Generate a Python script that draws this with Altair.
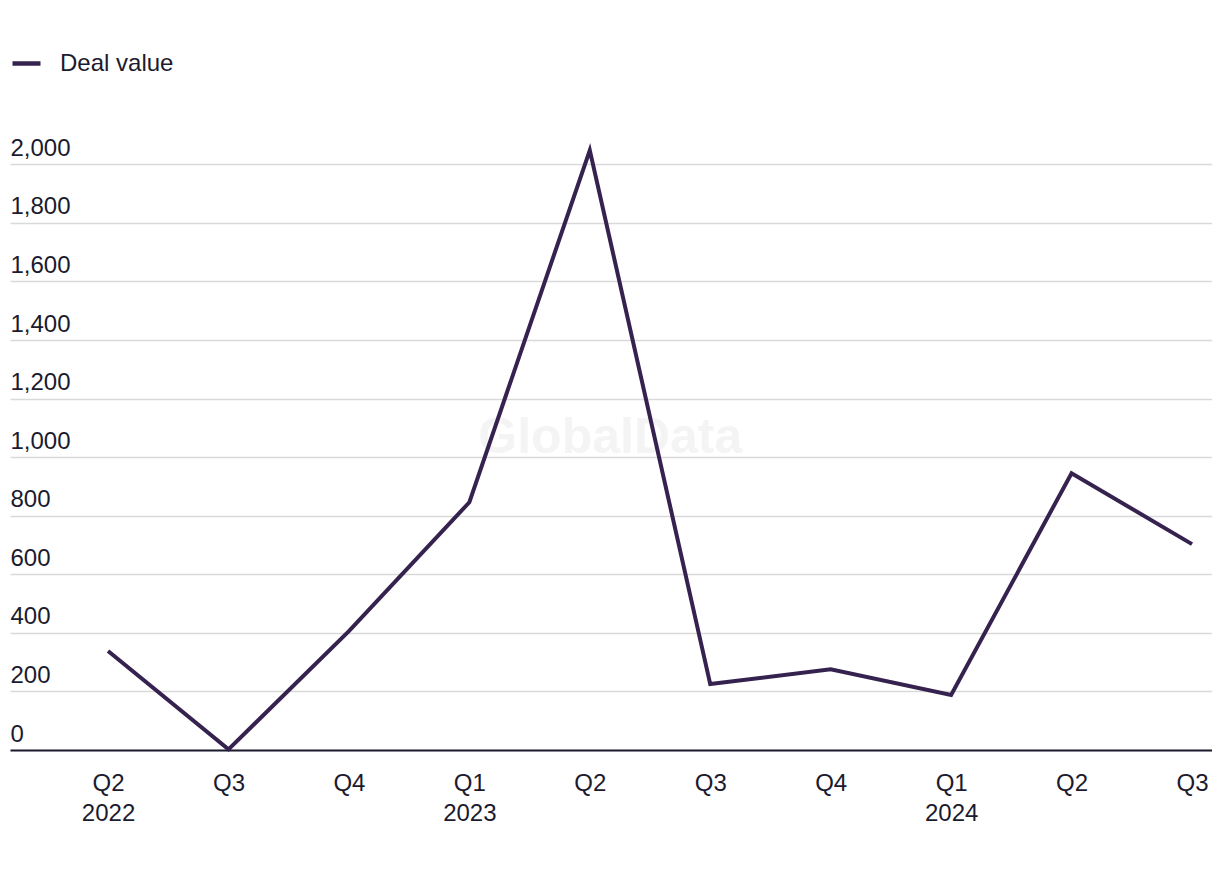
import altair as alt
import pandas as pd

quarters = ["Q2", "Q3", "Q4", "Q1", "Q2", "Q3", "Q4", "Q1", "Q2", "Q3"]
years = ["2022", "", "", "2023", "", "", "", "2024", "", ""]
deal_value = [338, 2, 406, 846, 2048, 225, 276, 188, 945, 703]
series_name = "Deal value"

df = pd.DataFrame({
    "idx": list(range(len(quarters))),
    "quarter": quarters,
    "year": years,
    "value": deal_value,
    "series": [series_name] * len(quarters),
})

label_expr_parts = []
for i, (q, y) in enumerate(zip(quarters, years)):
    if y:
        label_expr_parts.append(f"datum.value == {i} ? ['{q}', '{y}']")
    else:
        label_expr_parts.append(f"datum.value == {i} ? '{q}'")
label_expr = " : ".join(label_expr_parts) + " : ''"

FONT = "Liberation Sans"
TEXT = "#1b1a2e"
LINE = "#36224f"

x_scale = alt.Scale(domain=[-0.814, 9.166], nice=False, zero=False)
y_scale = alt.Scale(domain=[0, 2100], nice=False)

x_enc = alt.X(
    "idx:Q",
    scale=x_scale,
    axis=alt.Axis(
        values=list(range(len(quarters))),
        labelExpr=label_expr,
        title=None,
        grid=False,
        ticks=False,
        domain=True,
        domainColor=TEXT,
        domainWidth=2,
        labelPadding=21,
        labelLineHeight=30,
        labelBaseline="top",
        labelFont=FONT,
        labelFontSize=24,
        labelColor=TEXT,
    ),
)

y_enc = alt.Y(
    "value:Q",
    scale=y_scale,
    axis=alt.Axis(
        values=list(range(0, 2001, 200)),
        format=",.0f",
        title=None,
        ticks=False,
        domain=False,
        grid=True,
        gridColor="#d9d9d9",
        gridWidth=1.5,
        labelAlign="left",
        labelBaseline="alphabetic",
        labelPadding=0,
        labelOffset=-9,
        labelFont=FONT,
        labelFontSize=24,
        labelColor=TEXT,
    ),
)

watermark = alt.Chart(pd.DataFrame({"t": ["GlobalData"]})).mark_text(
    font=FONT, fontSize=50, fontWeight="bold", color="#f4f4f4",
    align="center", baseline="middle",
).encode(
    x=alt.X(datum=4.17, type="quantitative", scale=x_scale, axis=None),
    y=alt.Y(datum=1065, type="quantitative", scale=y_scale, axis=None),
    text="t:N",
)

line = alt.Chart(df).mark_line(strokeWidth=4, strokeJoin="miter").encode(
    x=x_enc,
    y=y_enc,
    color=alt.Color(
        "series:N",
        scale=alt.Scale(domain=[series_name], range=[LINE]),
        legend=alt.Legend(
            title=None,
            orient="none",
            legendX=0,
            legendY=-88,
            symbolType="stroke",
            symbolSize=784,
            symbolStrokeWidth=4.5,
            labelOffset=17,
            padding=0,
            labelFont=FONT,
            labelFontSize=24,
            labelColor=TEXT,
        ),
    ),
)

chart = alt.layer(watermark, line).resolve_axis(
    x="independent", y="independent"
).properties(
    width=1202,
    height=615,
    background="white",
    autosize=alt.AutoSizeParams(type="none"),
    padding={"left": 2, "top": 127, "right": 0, "bottom": 100},
).configure_view(stroke=None)

chart.save("out.html", embed_options={"renderer": "svg", "actions": False})
